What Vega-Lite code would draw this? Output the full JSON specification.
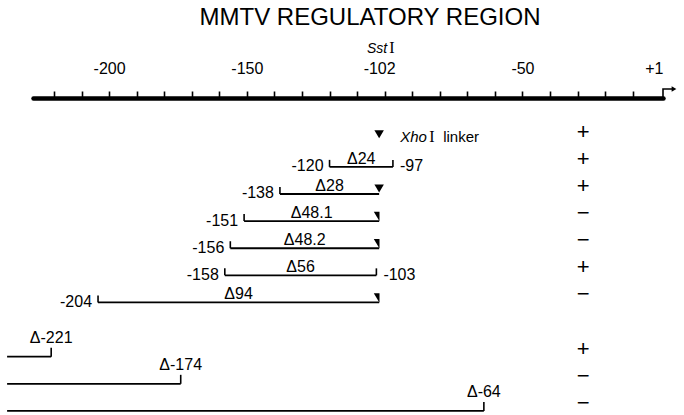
{
  "$schema": "https://vega.github.io/schema/vega-lite/v6.json",
  "autosize": {"type": "none"},
  "padding": {"left": 33, "top": 98, "right": 21, "bottom": 0},
  "width": 630,
  "height": 317,
  "title": {"text": "MMTV REGULATORY REGION", "font": "Liberation Sans", "fontSize": 24, "fontWeight": "normal", "color": "black", "anchor": "middle", "dx": 22, "dy": -6},
  "config": {"view": {"stroke": null}, "font": "Liberation Sans"},
  "datasets": {
    "constructs": [
      {"name": "Xho I linker", "row": 1, "kind": "linker", "start": null, "end": -102, "startLabel": "", "endLabel": "", "end_marker": "triangle", "activity": "+"},
      {"name": "Δ24", "row": 2, "kind": "internal", "start": -120, "end": -97, "startLabel": "-120", "endLabel": "-97", "end_marker": "bracket", "activity": "+"},
      {"name": "Δ28", "row": 3, "kind": "internal", "start": -138, "end": -102, "startLabel": "-138", "endLabel": "", "end_marker": "triangle", "activity": "+"},
      {"name": "Δ48.1", "row": 4, "kind": "internal", "start": -151, "end": -102, "startLabel": "-151", "endLabel": "", "end_marker": "wedge", "activity": "−"},
      {"name": "Δ48.2", "row": 5, "kind": "internal", "start": -156, "end": -102, "startLabel": "-156", "endLabel": "", "end_marker": "wedge", "activity": "−"},
      {"name": "Δ56", "row": 6, "kind": "internal", "start": -158, "end": -103, "startLabel": "-158", "endLabel": "-103", "end_marker": "bracket", "activity": "+"},
      {"name": "Δ94", "row": 7, "kind": "internal", "start": -204, "end": -102, "startLabel": "-204", "endLabel": "", "end_marker": "wedge", "activity": "−"},
      {"name": "Δ-221", "row": 9, "kind": "5prime", "start": -237, "end": -221, "startLabel": "", "endLabel": "", "end_marker": "bracket", "activity": "+"},
      {"name": "Δ-174", "row": 10, "kind": "5prime", "start": -237, "end": -174, "startLabel": "", "endLabel": "", "end_marker": "bracket", "activity": "−"},
      {"name": "Δ-64", "row": 11, "kind": "5prime", "start": -237, "end": -64, "startLabel": "", "endLabel": "", "end_marker": "bracket", "activity": "−"}
    ]
  },
  "data": {"name": "constructs"},
  "resolve": {"axis": {"x": "independent"}},
  "layer": [
    {
      "transform": [{"filter": "datum.kind !== 'linker'"}],
      "mark": {"type": "rule", "strokeWidth": 1.8, "color": "black"},
      "encoding": {
        "x": {"field": "start", "type": "quantitative", "scale": {"domain": [-227.6, 1], "nice": false, "zero": false},
          "axis": {"orient": "top", "values": [-220, -210, -200, -190, -180, -170, -160, -150, -140, -130, -120, -110, -100, -90, -80, -70, -60, -50, -40, -30, -20, -10],
            "labels": false, "title": null, "grid": false, "ticks": true, "tickSize": 7, "tickWidth": 1.6, "tickColor": "black",
            "domain": true, "domainWidth": 4.5, "domainColor": "black", "domainCap": "round"}},
        "x2": {"field": "end"},
        "y": {"field": "row", "type": "quantitative", "scale": {"domain": [-0.54, 11.15], "nice": false, "zero": false, "reverse": true}, "axis": null}
      }
    },
    {
      "transform": [{"filter": "datum.kind === 'internal'"}],
      "mark": {"type": "tick", "orient": "vertical", "thickness": 1.6, "size": 7, "yOffset": -3.5, "color": "black", "opacity": 1},
      "encoding": {
        "x": {"field": "start", "type": "quantitative", "scale": {"domain": [-227.6, 1], "nice": false, "zero": false},
          "axis": {"orient": "top", "values": [-200, -150, -102, -50, 1],
            "labelExpr": "datum.value === 1 ? '+1' : '' + datum.value",
            "ticks": false, "tickSize": 0, "domain": false, "grid": false, "title": null,
            "labelPadding": 25, "labelBaseline": "alphabetic", "labelFont": "Liberation Sans", "labelFontSize": 16, "labelColor": "black",
            "labelFlush": false, "labelOverlap": false,
            "labelAlign": {"condition": {"test": "datum.value === 1", "value": "right"}, "value": "center"}}},
        "y": {"field": "row", "type": "quantitative", "scale": {"domain": [-0.54, 11.15], "nice": false, "zero": false, "reverse": true}, "axis": null}
      }
    },
    {
      "transform": [{"filter": "datum.kind === 'internal' && datum.end_marker === 'bracket'"}],
      "mark": {"type": "tick", "orient": "vertical", "thickness": 1.6, "size": 7, "yOffset": -3.5, "color": "black", "opacity": 1},
      "encoding": {
        "x": {"field": "end", "type": "quantitative", "scale": {"domain": [-227.6, 1], "nice": false, "zero": false}, "axis": null},
        "y": {"field": "row", "type": "quantitative", "scale": {"domain": [-0.54, 11.15], "nice": false, "zero": false, "reverse": true}, "axis": null}
      }
    },
    {
      "transform": [{"filter": "datum.kind === '5prime'"}],
      "mark": {"type": "tick", "orient": "vertical", "thickness": 1.6, "size": 9, "yOffset": -4.5, "color": "black", "opacity": 1},
      "encoding": {
        "x": {"field": "end", "type": "quantitative", "scale": {"domain": [-227.6, 1], "nice": false, "zero": false}, "axis": null},
        "y": {"field": "row", "type": "quantitative", "scale": {"domain": [-0.54, 11.15], "nice": false, "zero": false, "reverse": true}, "axis": null}
      }
    },
    {
      "transform": [{"filter": "datum.end_marker === 'triangle'"}],
      "mark": {"type": "point", "shape": "triangle-down", "filled": true, "size": 90, "yOffset": -5.5, "color": "black", "opacity": 1},
      "encoding": {
        "x": {"field": "end", "type": "quantitative", "scale": {"domain": [-227.6, 1], "nice": false, "zero": false}, "axis": null},
        "y": {"field": "row", "type": "quantitative", "scale": {"domain": [-0.54, 11.15], "nice": false, "zero": false, "reverse": true}, "axis": null}
      }
    },
    {
      "transform": [{"filter": "datum.end_marker === 'wedge'"}],
      "mark": {"type": "point", "shape": "M-0.6,-1L0.6,-1L0.6,1Z", "filled": true, "size": 90, "xOffset": -2.5, "yOffset": -4.5, "color": "black", "opacity": 1},
      "encoding": {
        "x": {"field": "end", "type": "quantitative", "scale": {"domain": [-227.6, 1], "nice": false, "zero": false}, "axis": null},
        "y": {"field": "row", "type": "quantitative", "scale": {"domain": [-0.54, 11.15], "nice": false, "zero": false, "reverse": true}, "axis": null}
      }
    },
    {
      "transform": [{"filter": "datum.kind === 'internal'"}, {"calculate": "(datum.start + datum.end) / 2", "as": "mid"}],
      "mark": {"type": "text", "align": "center", "baseline": "alphabetic", "dy": -3, "fontSize": 16, "font": "Liberation Sans", "color": "black"},
      "encoding": {
        "x": {"field": "mid", "type": "quantitative", "scale": {"domain": [-227.6, 1], "nice": false, "zero": false}, "axis": null},
        "y": {"field": "row", "type": "quantitative", "scale": {"domain": [-0.54, 11.15], "nice": false, "zero": false, "reverse": true}, "axis": null},
        "text": {"field": "name"}
      }
    },
    {
      "transform": [{"filter": "datum.kind === '5prime'"}],
      "mark": {"type": "text", "align": "center", "baseline": "alphabetic", "dy": -14, "fontSize": 16, "font": "Liberation Sans", "color": "black"},
      "encoding": {
        "x": {"field": "end", "type": "quantitative", "scale": {"domain": [-227.6, 1], "nice": false, "zero": false}, "axis": null},
        "y": {"field": "row", "type": "quantitative", "scale": {"domain": [-0.54, 11.15], "nice": false, "zero": false, "reverse": true}, "axis": null},
        "text": {"field": "name"}
      }
    },
    {
      "transform": [{"filter": "datum.startLabel !== ''"}],
      "mark": {"type": "text", "align": "right", "baseline": "alphabetic", "dx": -6, "dy": 4.5, "fontSize": 16, "font": "Liberation Sans", "color": "black"},
      "encoding": {
        "x": {"field": "start", "type": "quantitative", "scale": {"domain": [-227.6, 1], "nice": false, "zero": false}, "axis": null},
        "y": {"field": "row", "type": "quantitative", "scale": {"domain": [-0.54, 11.15], "nice": false, "zero": false, "reverse": true}, "axis": null},
        "text": {"field": "startLabel"}
      }
    },
    {
      "transform": [{"filter": "datum.endLabel !== ''"}],
      "mark": {"type": "text", "align": "left", "baseline": "alphabetic", "dx": 7, "dy": 4.5, "fontSize": 16, "font": "Liberation Sans", "color": "black"},
      "encoding": {
        "x": {"field": "end", "type": "quantitative", "scale": {"domain": [-227.6, 1], "nice": false, "zero": false}, "axis": null},
        "y": {"field": "row", "type": "quantitative", "scale": {"domain": [-0.54, 11.15], "nice": false, "zero": false, "reverse": true}, "axis": null},
        "text": {"field": "endLabel"}
      }
    },
    {
      "mark": {"type": "text", "align": "center", "baseline": "alphabetic", "dy": -1, "fontSize": 22, "font": "Liberation Sans", "color": "black"},
      "encoding": {
        "x": {"datum": -28, "type": "quantitative", "scale": {"domain": [-227.6, 1], "nice": false, "zero": false}, "axis": null},
        "y": {"field": "row", "type": "quantitative", "scale": {"domain": [-0.54, 11.15], "nice": false, "zero": false, "reverse": true}, "axis": null},
        "text": {"field": "activity"}
      }
    },
    {
      "transform": [{"filter": "datum.kind === 'linker'"}],
      "mark": {"type": "text", "align": "left", "baseline": "alphabetic", "dx": 21, "dy": 2, "fontSize": 15, "fontStyle": "italic", "font": "Liberation Sans", "color": "black", "text": "Xho"},
      "encoding": {
        "x": {"field": "end", "type": "quantitative", "scale": {"domain": [-227.6, 1], "nice": false, "zero": false}, "axis": null},
        "y": {"field": "row", "type": "quantitative", "scale": {"domain": [-0.54, 11.15], "nice": false, "zero": false, "reverse": true}, "axis": null}
      }
    },
    {
      "transform": [{"filter": "datum.kind === 'linker'"}],
      "mark": {"type": "text", "align": "left", "baseline": "alphabetic", "dx": 50, "dy": 2, "fontSize": 16, "font": "Liberation Serif", "color": "black", "text": "I"},
      "encoding": {
        "x": {"field": "end", "type": "quantitative", "scale": {"domain": [-227.6, 1], "nice": false, "zero": false}, "axis": null},
        "y": {"field": "row", "type": "quantitative", "scale": {"domain": [-0.54, 11.15], "nice": false, "zero": false, "reverse": true}, "axis": null}
      }
    },
    {
      "transform": [{"filter": "datum.kind === 'linker'"}],
      "mark": {"type": "text", "align": "left", "baseline": "alphabetic", "dx": 64, "dy": 2, "fontSize": 15, "font": "Liberation Sans", "color": "black", "text": "linker"},
      "encoding": {
        "x": {"field": "end", "type": "quantitative", "scale": {"domain": [-227.6, 1], "nice": false, "zero": false}, "axis": null},
        "y": {"field": "row", "type": "quantitative", "scale": {"domain": [-0.54, 11.15], "nice": false, "zero": false, "reverse": true}, "axis": null}
      }
    },
    {
      "data": {"values": [{"site": "Sst", "numeral": "I", "pos": -102}]},
      "mark": {"type": "text", "align": "right", "baseline": "alphabetic", "dx": 8, "fontSize": 14, "fontStyle": "italic", "font": "Liberation Sans", "color": "black"},
      "encoding": {
        "x": {"field": "pos", "type": "quantitative", "scale": {"domain": [-227.6, 1], "nice": false, "zero": false}, "axis": null},
        "y": {"datum": -2.2, "type": "quantitative", "scale": {"domain": [-0.54, 11.15], "nice": false, "zero": false, "reverse": true}, "axis": null},
        "text": {"field": "site"}
      }
    },
    {
      "data": {"values": [{"site": "Sst", "numeral": "I", "pos": -102}]},
      "mark": {"type": "text", "align": "left", "baseline": "alphabetic", "dx": 10, "fontSize": 16, "font": "Liberation Serif", "color": "black"},
      "encoding": {
        "x": {"field": "pos", "type": "quantitative", "scale": {"domain": [-227.6, 1], "nice": false, "zero": false}, "axis": null},
        "y": {"datum": -2.2, "type": "quantitative", "scale": {"domain": [-0.54, 11.15], "nice": false, "zero": false, "reverse": true}, "axis": null},
        "text": {"field": "numeral"}
      }
    },
    {
      "data": {"values": [{"pos": 1}]},
      "mark": {"type": "point", "shape": "M0,0V-0.9H0.9", "filled": false, "size": 400, "strokeWidth": 1.6, "color": "black", "opacity": 1},
      "encoding": {
        "x": {"field": "pos", "type": "quantitative", "scale": {"domain": [-227.6, 1], "nice": false, "zero": false}, "axis": null},
        "y": {"datum": -0.54, "type": "quantitative", "scale": {"domain": [-0.54, 11.15], "nice": false, "zero": false, "reverse": true}, "axis": null}
      }
    },
    {
      "data": {"values": [{"pos": 1}]},
      "mark": {"type": "point", "shape": "triangle-right", "filled": true, "size": 30, "xOffset": 11, "yOffset": -9, "color": "black", "opacity": 1},
      "encoding": {
        "x": {"field": "pos", "type": "quantitative", "scale": {"domain": [-227.6, 1], "nice": false, "zero": false}, "axis": null},
        "y": {"datum": -0.54, "type": "quantitative", "scale": {"domain": [-0.54, 11.15], "nice": false, "zero": false, "reverse": true}, "axis": null}
      }
    }
  ]
}
